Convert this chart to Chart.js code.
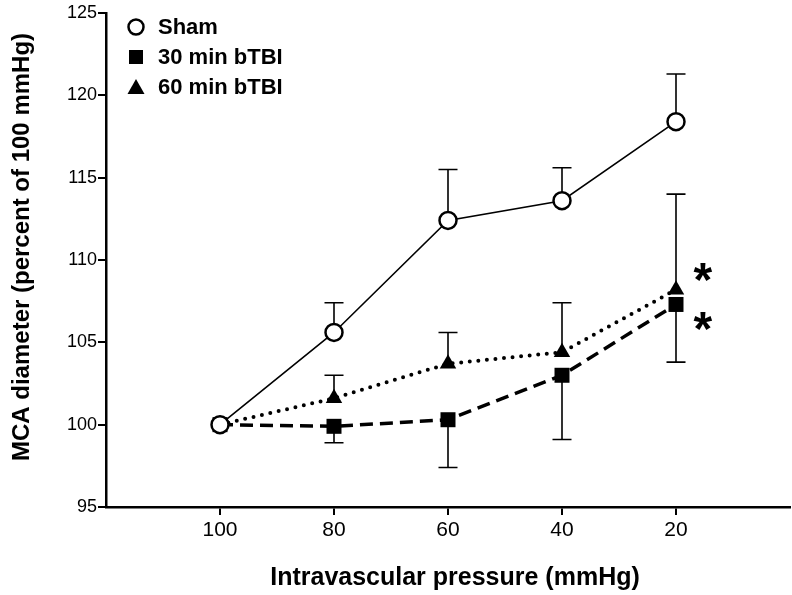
<!DOCTYPE html>
<html>
<head>
<meta charset="utf-8">
<script src="https://cdn.jsdelivr.net/npm/chart.js@4.4.1/dist/chart.umd.min.js"></script>
<style>
  html, body { margin: 0; padding: 0; background: #fff; overflow: hidden; }
  #wrap { width: 792px; height: 595px; position: relative; }
  #mca-chart { display: block; }
</style>
</head>
<body>
<div id="wrap"><canvas id="mca-chart"></canvas></div>
<script>
'use strict';

// values
const pressures = [100, 80, 60, 40, 20];
const shamMean = [100, 105.6, 112.4, 113.6, 118.4];
const shamUpper = [null, 107.4, 115.5, 115.6, 121.3];
const tbi30Mean = [100, 99.9, 100.3, 103.0, 107.3];
const tbi30Lower = [null, 98.9, 97.4, 99.1, 103.8];
const tbi60Mean = [100, 101.6, 103.7, 104.4, 108.2];
const tbi60Upper = [null, 103.0, 105.6, 107.4, 114.0];
const seriesNames = ['Sham', '30 min bTBI', '60 min bTBI'];
const yTicks = [95, 100, 105, 110, 115, 120, 125];
const starMarks = [{x: 15.3, y: 109.1}, {x: 15.3, y: 106.1}];
const xTitle = 'Intravascular pressure (mmHg)';
const yTitle = 'MCA diameter (percent of 100 mmHg)';

const fontFamily = '"Liberation Sans", Arial, Helvetica, sans-serif';

const toPoints = function (means) {
    return pressures.map((p, i) => ({x: p, y: means[i]}));
};

const errorBarPlugin = {
    id: 'errorBars',
    beforeDatasetsDraw: function (chart) {
        const ctx = chart.ctx;
        const xs = chart.scales.x;
        const ys = chart.scales.y;
        ctx.save();
        ctx.strokeStyle = '#000';
        ctx.lineWidth = 1.6;
        chart.data.datasets.forEach(ds => {
            ds.errorEnds.forEach((v, j) => {
                if (v === null) return;
                const x = xs.getPixelForValue(pressures[j]);
                const y0 = ys.getPixelForValue(ds.data[j].y);
                const y1 = ys.getPixelForValue(v);
                ctx.beginPath();
                ctx.moveTo(x, y0);
                ctx.lineTo(x, y1);
                ctx.moveTo(x - 9.5, y1);
                ctx.lineTo(x + 9.5, y1);
                ctx.stroke();
            });
        });
        ctx.restore();
    },
};

const drawMarker = function (ctx, style, cx, cy) {
    ctx.beginPath();
    if (style === 'circle') {
        ctx.arc(cx, cy, 7.5, 0, Math.PI * 2);
        ctx.fillStyle = '#fff';
        ctx.fill();
        ctx.lineWidth = 2.5;
        ctx.stroke();
    } else if (style === 'rect') {
        ctx.fillStyle = '#000';
        ctx.fillRect(cx - 7, cy - 7, 14, 14);
    } else {
        ctx.moveTo(cx, cy - 8);
        ctx.lineTo(cx + 8.5, cy + 7);
        ctx.lineTo(cx - 8.5, cy + 7);
        ctx.closePath();
        ctx.fillStyle = '#000';
        ctx.fill();
    }
};

const labelPlugin = {
    id: 'labels',
    afterDraw: function (chart) {
        const ctx = chart.ctx;
        const area = chart.chartArea;
        ctx.save();
        ctx.strokeStyle = '#000';
        // legend inside the plot, top left
        chart.data.datasets.forEach((ds, i) => {
            const cy = area.top + 14 + i * 30;
            drawMarker(ctx, ds.pointStyle, area.left + 30, cy);
            ctx.fillStyle = '#000';
            ctx.font = 'bold 22px ' + fontFamily;
            ctx.textAlign = 'left';
            ctx.textBaseline = 'middle';
            ctx.fillText(ds.label, area.left + 52, cy + 1);
        });
        // significance stars
        ctx.font = 'bold 48px ' + fontFamily;
        ctx.textAlign = 'center';
        ctx.textBaseline = 'alphabetic';
        starMarks.forEach(s => {
            const x = chart.scales.x.getPixelForValue(s.x);
            const y = chart.scales.y.getPixelForValue(s.y);
            ctx.fillText('*', x, y + 21);
        });
        // axis titles
        ctx.font = 'bold 25px ' + fontFamily;
        ctx.textBaseline = 'middle';
        ctx.fillText(xTitle, 455, 578);
        ctx.font = 'bold 24px ' + fontFamily;
        ctx.translate(22, (area.top + area.bottom) / 2 - 13);
        ctx.rotate(-Math.PI / 2);
        ctx.fillText(yTitle, 0, 0);
        ctx.restore();
    },
};

const ctx = document.getElementById('mca-chart').getContext('2d');
window.mcaChart = new Chart(ctx, {
    type: 'line',
    data: {
        datasets: [
            {
                label: seriesNames[0],
                data: toPoints(shamMean),
                errorEnds: shamUpper,
                borderColor: '#000',
                borderWidth: 1.6,
                pointStyle: 'circle',
                pointRadius: 8.5,
                pointBorderWidth: 2.5,
                pointBackgroundColor: '#fff',
                pointBorderColor: '#000',
            },
            {
                label: seriesNames[1],
                data: toPoints(tbi30Mean),
                errorEnds: tbi30Lower,
                borderColor: '#000',
                borderWidth: 3.5,
                borderDash: [13, 7],
                pointStyle: 'rect',
                pointRadius: 10.6,
                pointBorderWidth: 0,
                pointBackgroundColor: '#000',
                pointBorderColor: '#000',
            },
            {
                label: seriesNames[2],
                data: toPoints(tbi60Mean),
                errorEnds: tbi60Upper,
                borderColor: '#000',
                borderWidth: 4,
                borderDash: [0, 8.6],
                borderCapStyle: 'round',
                pointStyle: 'triangle',
                pointRadius: 9.5,
                pointBorderWidth: 0,
                pointBackgroundColor: '#000',
                pointBorderColor: '#000',
            },
        ],
    },
    options: {
        responsive: true,
        maintainAspectRatio: false,
        animation: false,
        clip: false,
        layout: {autoPadding: false, padding: {top: 13, right: 2, left: 0, bottom: 0}},
        plugins: {
            legend: {display: false},
            tooltip: {enabled: false},
        },
        scales: {
            x: {
                type: 'linear',
                min: 0,
                max: 120,
                reverse: true,
                afterBuildTicks: function (scale) {
                    scale.ticks = pressures.map(v => ({value: v}));
                },
                afterFit: function (scale) {
                    scale.height = 88;
                    scale.paddingLeft = 0;
                    scale.paddingRight = 0;
                },
                border: {color: '#000', width: 2.5},
                grid: {drawOnChartArea: false, color: '#000', lineWidth: 2, tickLength: 8},
                ticks: {color: '#000', font: {family: fontFamily, size: 21}, padding: 3, maxRotation: 0},
            },
            y: {
                min: 95,
                max: 125,
                afterBuildTicks: function (scale) {
                    scale.ticks = yTicks.map(v => ({value: v}));
                },
                afterFit: function (scale) {
                    scale.width = 106;
                },
                border: {color: '#000', width: 2.5},
                grid: {drawOnChartArea: false, color: '#000', lineWidth: 2, tickLength: 8},
                ticks: {color: '#000', font: {family: fontFamily, size: 18}, padding: 1},
            },
        },
    },
    plugins: [errorBarPlugin, labelPlugin],
});
</script>
</body>
</html>
